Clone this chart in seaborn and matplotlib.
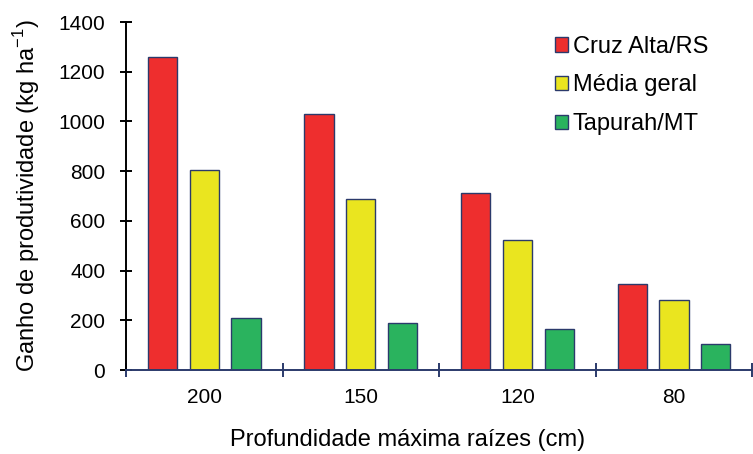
import matplotlib
matplotlib.use("Agg")
import matplotlib.pyplot as plt
import numpy as np
import pandas as pd
import seaborn as sns

depths = ["200", "150", "120", "80"]
series = ["Cruz Alta/RS", "Média geral", "Tapurah/MT"]
cruz_alta = [1259, 1029, 713, 345]
media_geral = [803, 689, 522, 282]
tapurah = [210, 190, 164, 103]

colors = ["#EE2E2E", "#EAE51F", "#2AB35E"]
edge = "#2B3A6B"

df = pd.DataFrame({
    "depth": depths * 3,
    "serie": [s for s in series for _ in depths],
    "value": cruz_alta + media_geral + tapurah,
})

sns.set_style("white")
plt.rcParams["font.family"] = ["Liberation Sans", "DejaVu Sans"]
plt.rcParams["text.color"] = "black"
plt.rcParams["axes.labelcolor"] = "black"
plt.rcParams["xtick.color"] = "black"
plt.rcParams["ytick.color"] = "black"

fig = plt.figure(figsize=(7.53, 4.54), dpi=100)
ax = fig.add_axes([0.1673, 0.185, 0.8317, 0.7665])

sns.barplot(data=df, x="depth", y="value", hue="serie", order=depths,
            hue_order=series, palette=colors, saturation=1, width=0.8,
            gap=0.3, edgecolor=edge, linewidth=1.0, ax=ax)

ax.set_xlim(-0.5, 3.5)
ax.set_ylim(0, 1400)
ax.set_yticks(np.arange(0, 1401, 200))
ax.set_xticks(np.arange(-0.5, 3.6, 1), minor=True)

for s in ["top", "right"]:
    ax.spines[s].set_visible(False)
ax.spines["left"].set_color("black")
ax.spines["left"].set_linewidth(1.4)
ax.spines["bottom"].set_color(edge)
ax.spines["bottom"].set_linewidth(1.4)

ax.tick_params(axis="y", left=True, direction="inout", length=9, width=1.4,
               color="black", labelsize=15, pad=10.5)
ax.tick_params(axis="x", which="major", bottom=True, length=0,
               labelsize=15, pad=13)
ax.tick_params(axis="x", which="minor", bottom=True, direction="inout",
               length=10, width=1.4, color=edge)

ax.set_xlabel("Profundidade máxima raízes (cm)", fontsize=17, labelpad=15.5)
ax.xaxis.label.set_x(0.449)
ax.set_ylabel("Ganho de produtividade (kg ha$^{\\mathregular{-1}}$)",
              fontsize=17, labelpad=12)

ax.legend(loc="upper left", bbox_to_anchor=(0.685, 0.96),
          frameon=False, fontsize=17, borderpad=0, borderaxespad=0,
          handlelength=0.55, handleheight=0.55, handletextpad=0.2,
          labelspacing=0.7)

fig.savefig("out.png", dpi=100)
